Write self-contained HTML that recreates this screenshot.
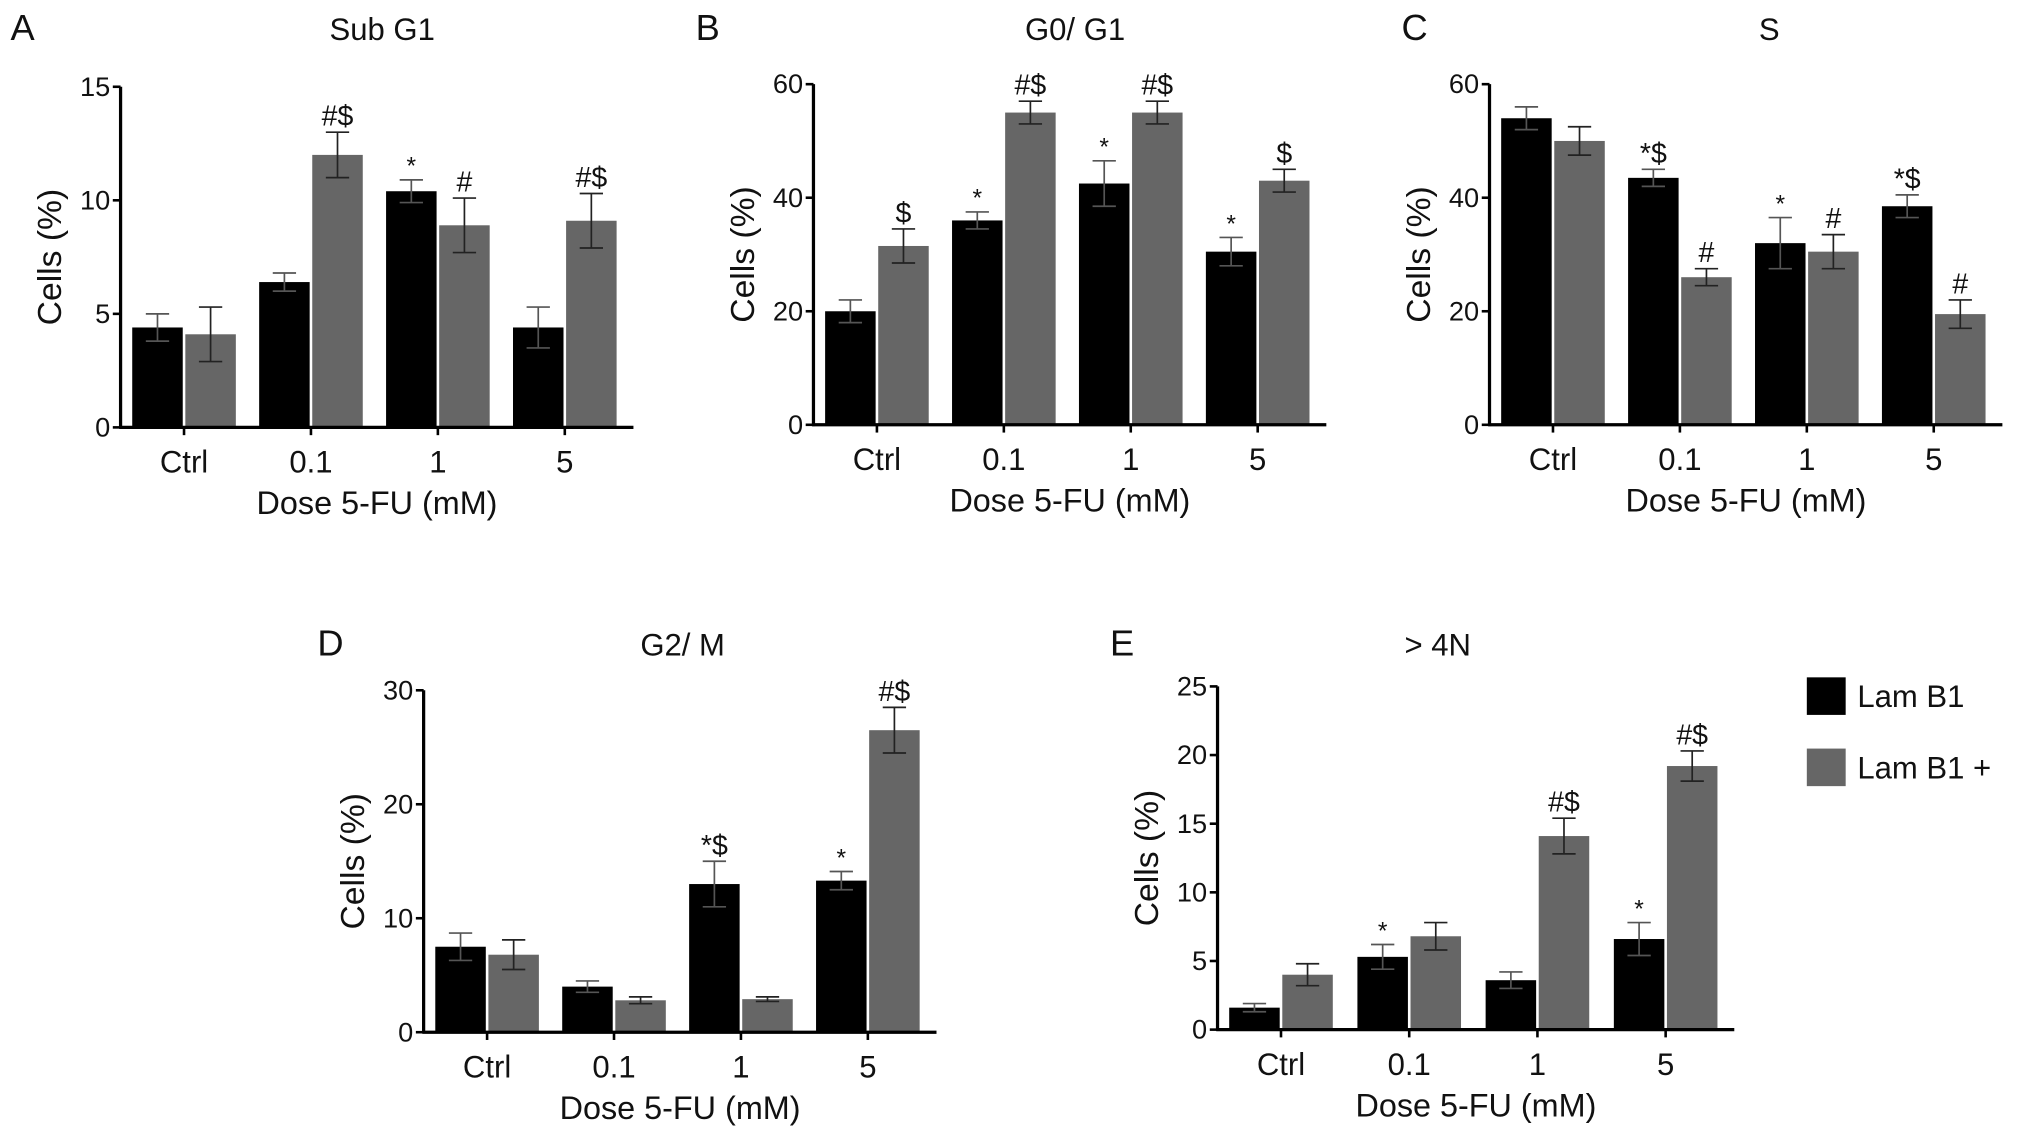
<!DOCTYPE html>
<html><head><meta charset="utf-8"><style>
html,body{margin:0;padding:0;background:#fff}
svg{display:block}
text{font-family:"Liberation Sans",sans-serif;fill:#111}
</style></head><body>
<svg id="fig" width="2031" height="1141" viewBox="0 0 1568 881" xmlns="http://www.w3.org/2000/svg"></svg>
<script>
const categories = ["Ctrl","0.1","1","5"];
const subG1Black = [4.4,6.4,10.4,4.4];
const subG1BlackErr = [0.6,0.4,0.5,0.9];
const subG1Gray = [4.1,12.0,8.9,9.1];
const subG1GrayErr = [1.2,1.0,1.2,1.2];
const subG1BlackMarks = ["","","*",""];
const subG1GrayMarks = ["","#$","#","#$"];
const g0g1Black = [20,36,42.5,30.5];
const g0g1BlackErr = [2,1.5,4,2.5];
const g0g1Gray = [31.5,55,55,43];
const g0g1GrayErr = [3,2,2,2];
const g0g1BlackMarks = ["","*","*","*"];
const g0g1GrayMarks = ["$","#$","#$","$"];
const sBlack = [54,43.5,32,38.5];
const sBlackErr = [2,1.5,4.5,2];
const sGray = [50,26,30.5,19.5];
const sGrayErr = [2.5,1.5,3,2.5];
const sBlackMarks = ["","*$","*","*$"];
const sGrayMarks = ["","#","#","#"];
const g2mBlack = [7.5,4,13,13.3];
const g2mBlackErr = [1.2,0.5,2,0.8];
const g2mGray = [6.8,2.8,2.9,26.5];
const g2mGrayErr = [1.3,0.3,0.2,2];
const g2mBlackMarks = ["","","*$","*"];
const g2mGrayMarks = ["","","","#$"];
const n4Black = [1.6,5.3,3.6,6.6];
const n4BlackErr = [0.3,0.9,0.6,1.2];
const n4Gray = [4,6.8,14.1,19.2];
const n4GrayErr = [0.8,1,1.3,1.1];
const n4BlackMarks = ["","*","","*"];
const n4GrayMarks = ["","","#$","#$"];
const ticksA = [0,5,10,15];
const ticksBC = [0,20,40,60];
const ticksD = [0,10,20,30];
const ticksE = [0,5,10,15,20,25];

const NS="http://www.w3.org/2000/svg";
const svg=document.getElementById('fig');
function mk(tag,attrs,parent){const e=document.createElementNS(NS,tag);for(const k in attrs)e.setAttribute(k,attrs[k]);(parent||svg).appendChild(e);return e;}
function txt(s,x,y,size,anchor,parent){const t=mk('text',{x:x,y:y,'font-size':size,'text-anchor':anchor||'middle'},parent);t.textContent=s;return t;}

function panel(o){
  const g=mk('g',{});
  
  
  const ax=o.ax, y0=o.y0, yTop=o.yTop, max=o.ticks[o.ticks.length-1];
  const yS=v=>y0-(v/max)*(y0-yTop);
  const cx=i=>ax+49+i*o.step;
  const L=txt(o.letter,o.lx,o.ly,28,'start',g);
  
  
  const T=txt(o.title,o.tx,o.ly,24,'middle',g);
  
  
  const series=[[o.b,o.be,o.bm,'#000',-40],[o.g,o.ge,o.gm,'#666',1]];
  series.forEach((s,si)=>{
    s[0].forEach((v,i)=>{
      const x=cx(i)+s[4], w=39, y=yS(v);
      const r=mk('rect',{x:x,y:y,width:w,height:y0-y,fill:s[3]},g);
      
      
      const xm=x+w/2, yt=yS(v+s[1][i]), yb=yS(v-s[1][i]);
      const eb=mk('path',{d:`M${xm},${yt}V${yb}M${xm-9},${yt}H${xm+9}M${xm-9},${yb}H${xm+9}`,stroke:si?'#222':'#555','stroke-width':1.3,fill:'none'},g);
      
      
      if(s[2][i]){
        const isStar=s[2][i]==='*';
        const m=txt(s[2][i],xm,yt-(isStar?4:5),isStar?19:22,'middle',g);
        
        
      }
    });
  });
  const xEnd=cx(3)+49+4;
  const yax=mk('path',{d:`M${ax},${yTop}V${y0+1}`,stroke:'#000','stroke-width':2.5,fill:'none'},g);
  
  
  const xax=mk('path',{d:`M${ax-1},${y0}H${xEnd}`,stroke:'#000','stroke-width':2.5,fill:'none'},g);
  
  
  o.ticks.forEach(t=>{
    const y=yS(t);
    mk('path',{d:`M${ax-6},${y}H${ax}`,stroke:'#000','stroke-width':2},g);
    const tl=txt(String(t),ax-8,y+7,21,'end',g);
    
    
  });
  categories.forEach((c,i)=>{
    mk('path',{d:`M${cx(i)},${y0}V${y0+6}`,stroke:'#000','stroke-width':2},g);
    const cl=txt(c,cx(i),y0+35,24,'middle',g);
    
    
  });
  const xt=txt('Dose 5-FU (mM)',(ax+xEnd)/2,y0+67,25,'middle',g);
  
  
  const ymid=(y0+yTop)/2;
  const yt=txt('Cells (%)',0,0,26,'middle',g);
  yt.setAttribute('transform',`translate(${ax-46},${ymid}) rotate(-90)`);
  
  
}

panel({name:'panel-a-sub-g1',letter:'A',lx:8,ly:31,title:'Sub G1',tx:295,ax:93,y0:330,yTop:67,step:98,ticks:ticksA,b:subG1Black,be:subG1BlackErr,bm:subG1BlackMarks,g:subG1Gray,ge:subG1GrayErr,gm:subG1GrayMarks});
panel({name:'panel-b-g0-g1',letter:'B',lx:537,ly:31,title:'G0/ G1',tx:830,ax:628,y0:328,yTop:65,step:98,ticks:ticksBC,b:g0g1Black,be:g0g1BlackErr,bm:g0g1BlackMarks,g:g0g1Gray,ge:g0g1GrayErr,gm:g0g1GrayMarks});
panel({name:'panel-c-s',letter:'C',lx:1082,ly:31,title:'S',tx:1366,ax:1150,y0:328,yTop:65,step:98,ticks:ticksBC,b:sBlack,be:sBlackErr,bm:sBlackMarks,g:sGray,ge:sGrayErr,gm:sGrayMarks});
panel({name:'panel-d-g2-m',letter:'D',lx:245,ly:506,title:'G2/ M',tx:527,ax:327,y0:797,yTop:533,step:98,ticks:ticksD,b:g2mBlack,be:g2mBlackErr,bm:g2mBlackMarks,g:g2mGray,ge:g2mGrayErr,gm:g2mGrayMarks});
panel({name:'panel-e-4n',letter:'E',lx:857,ly:506,title:'> 4N',tx:1110,ax:940,y0:795,yTop:530,step:99,ticks:ticksE,b:n4Black,be:n4BlackErr,bm:n4BlackMarks,g:n4Gray,ge:n4GrayErr,gm:n4GrayMarks});

const lg=mk('g',{});


const l1=mk('rect',{x:1395,y:523,width:30,height:29,fill:'#000'},lg);


const t1=txt('Lam B1',1434,546,24,'start',lg);


const l2=mk('rect',{x:1395,y:578,width:30,height:29,fill:'#666'},lg);


const t2=txt('Lam B1 +',1434,601,24,'start',lg);


</script>
</body></html>
